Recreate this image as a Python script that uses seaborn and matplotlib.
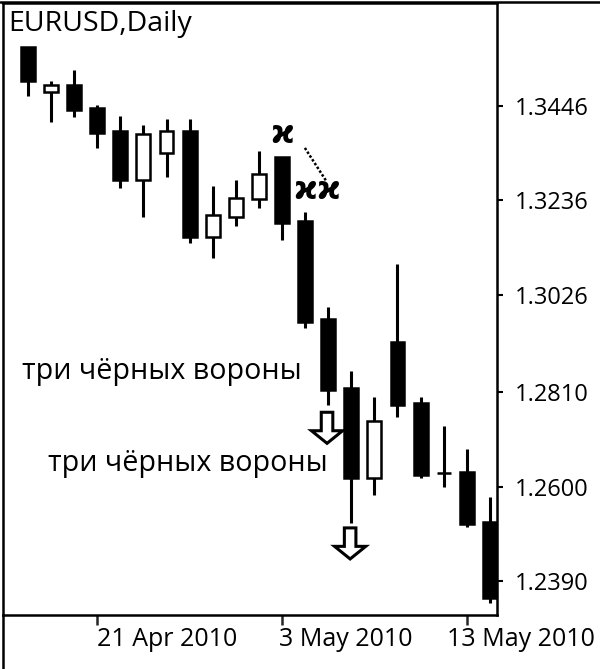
import numpy as np
import seaborn as sns
import matplotlib.pyplot as plt
from matplotlib.lines import Line2D
from matplotlib.patches import FancyArrow

# EURUSD daily candles, 16 Apr .. 14 May 2010
dates = ["16 Apr", "19 Apr", "20 Apr", "21 Apr", "22 Apr", "23 Apr", "26 Apr",
         "27 Apr", "28 Apr", "29 Apr", "30 Apr", "3 May", "4 May", "5 May",
         "6 May", "7 May", "10 May", "11 May", "12 May", "13 May", "14 May"]
opens = [1.3577, 1.3477, 1.3493, 1.3442, 1.3390, 1.3282, 1.3342, 1.3390, 1.3155, 1.3199,
         1.3239, 1.3333, 1.3190, 1.2973, 1.2819, 1.2619, 1.2921, 1.2786, 1.2630, 1.2632, 1.2521]
highs = [1.3577, 1.3502, 1.3526, 1.3448, 1.3424, 1.3404, 1.3417, 1.3417, 1.3268, 1.3282,
         1.3346, 1.3333, 1.3210, 1.2999, 1.2857, 1.2799, 1.3095, 1.2799, 1.2735, 1.2684, 1.2577]
lows = [1.3468, 1.3411, 1.3422, 1.3353, 1.3264, 1.3199, 1.3288, 1.3141, 1.3108, 1.3179,
        1.3219, 1.3148, 1.2953, 1.2781, 1.2519, 1.2581, 1.2755, 1.2619, 1.2599, 1.2510, 1.2341]
closes = [1.3502, 1.3493, 1.3437, 1.3386, 1.3282, 1.3384, 1.3390, 1.3155, 1.3204, 1.3242,
          1.3295, 1.3186, 1.2966, 1.2815, 1.2619, 1.2746, 1.2781, 1.2626, 1.2630, 1.2517, 1.2352]

ytick_vals = [1.2390, 1.2600, 1.2810, 1.3026, 1.3236, 1.3446]
xtick_idx = [3, 11, 19]
xtick_labels = ["21 Apr 2010", "3 May 2010", "13 May 2010"]
pattern_label = "три чёрных вороны"

sns.set_theme(style="white")
plt.rcParams['font.family'] = ['Open Sans', 'DejaVu Sans']
plt.rcParams['text.color'] = 'black'

fig = plt.figure(figsize=(6, 6.69), dpi=100)
ax = fig.add_axes([0.005, 0.0807, 0.823, 0.915])

x = np.arange(len(dates))
o = np.array(opens)
c = np.array(closes)
colors = ["black" if cc < oo else "white" for oo, cc in zip(o, c)]

ax.vlines(x, lows, highs, color="black", lw=2.2, zorder=1)
ax.bar(x, c - o, bottom=o, width=0.6, color=colors, edgecolor="black",
       linewidth=1.8, zorder=2)

ax.set_xlim(-1.08, 20.3)
ax.set_ylim(1.23144, 1.3675)

# axes styling
for sp in ax.spines.values():
    sp.set_color("black")
    sp.set_linewidth(1.8)
ax.yaxis.tick_right()
ax.set_yticks(ytick_vals)
ax.set_yticklabels([f"{v:.4f}" for v in ytick_vals])
ax.tick_params(axis="y", right=True, length=4, width=1.5, pad=9,
               labelsize=17, colors="black")
ax.set_xticks(xtick_idx)
ax.set_xticklabels([])
ax.tick_params(axis="x", bottom=True, length=7, width=1.8, direction="out")
shifts = [0.0, -0.15, -0.85]
for xi, lab, sh in zip(xtick_idx, xtick_labels, shifts):
    ax.text(xi + sh, -0.019, lab, transform=ax.get_xaxis_transform(),
            ha="left", va="top", fontsize=18, color="black")

ax.text(0.01, 0.988, "EURUSD,Daily", transform=ax.transAxes, ha="left",
        va="top", fontsize=20.5, color="black")

# pattern annotations
ax.text(-0.26, 1.28546, pattern_label, ha="left", va="center", fontsize=20.6)
ax.text(0.87, 1.26501, pattern_label, ha="left", va="center", fontsize=20.6)

for xi, off in [(13, 0.0016), (14, 0.0011)]:
    top = lows[xi] - off
    arr = FancyArrow(xi - 0.05, top, 0, -0.0069, width=0.5, head_width=1.35,
                     head_length=0.0028, length_includes_head=True,
                     facecolor="white", edgecolor="black", linewidth=2.2, zorder=3)
    ax.add_patch(arr)

for xi, yv in [(11, highs[11] + 0.0049), (12, highs[12] + 0.0049), (13, highs[12] + 0.0049)]:
    ax.text(xi, yv, "ϰ", ha="center", va="center", fontsize=23,
            fontweight="bold", family="DejaVu Sans", color="black")
ax.plot([11.99, 12.94], [1.33526, 1.32771], color="black", lw=1.8,
        linestyle=(0, (1, 0.8)))

# frame pieces outside the axes
fig.add_artist(Line2D([0.005, 0.005], [0, 0.0807], color="black", lw=1.8))
fig.add_artist(Line2D([0, 1], [0.997, 0.997], color="black", lw=1.8))

fig.savefig("out.png", dpi=100)
